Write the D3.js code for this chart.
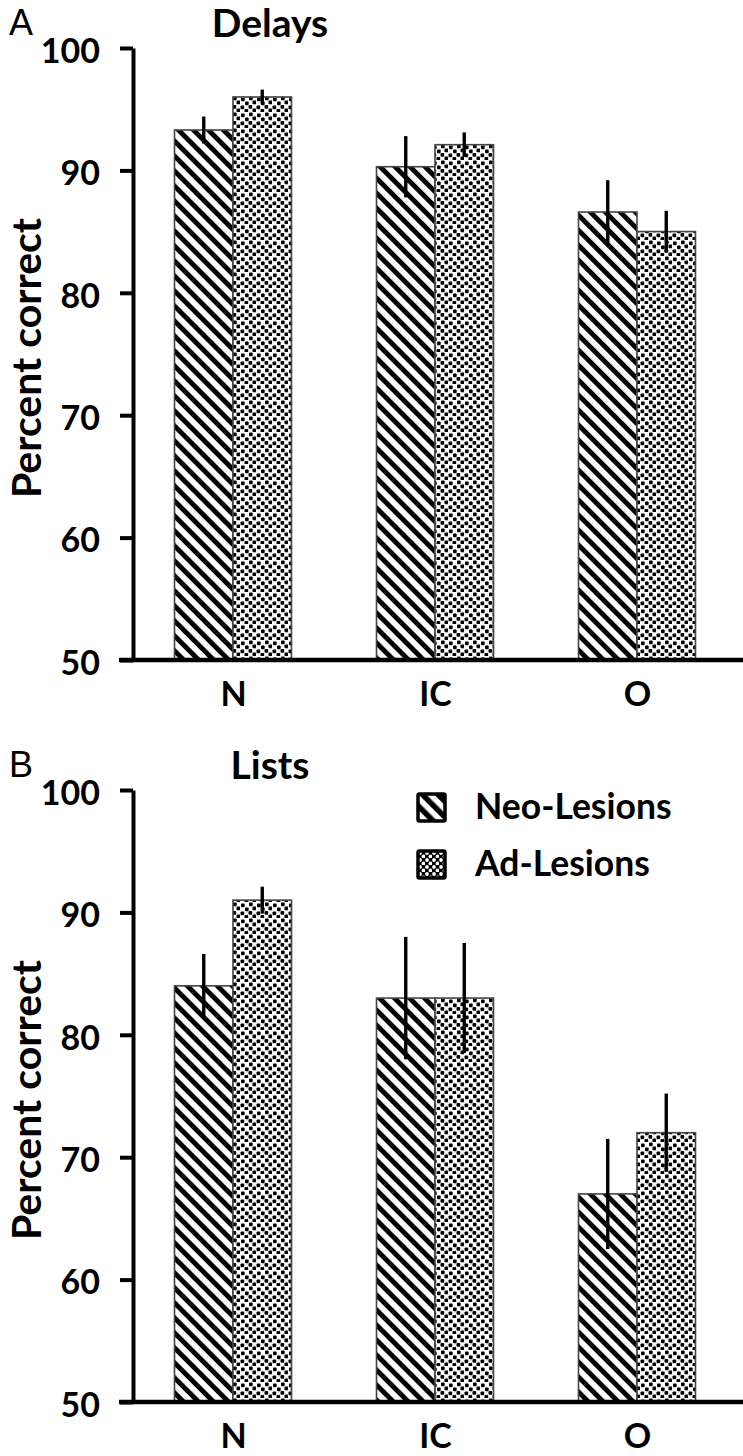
<!DOCTYPE html>
<html><head><meta charset="utf-8">
<script src="https://cdn.jsdelivr.net/npm/d3@7"></script>
<style>
html,body{margin:0;padding:0;background:#fff;}
svg{display:block;}
</style></head>
<body>
<svg id="chart" width="743" height="1456"></svg>
<script>
// ---- data ----
const categories = ["N", "IC", "O"];
const seriesNames = ["Neo-Lesions", "Ad-Lesions"];
const yTicks = [50, 60, 70, 80, 90, 100];

const delaysNeo = [93.3, 90.3, 86.6];
const delaysNeoErr = [1.1, 2.5, 2.6];
const delaysAd = [96.0, 92.1, 85.0];
const delaysAdErr = [0.6, 1.0, 1.7];

const listsNeo = [84.0, 83.0, 67.0];
const listsNeoErr = [2.6, 5.0, 4.5];
const listsAd = [91.0, 83.0, 72.0];
const listsAdErr = [1.1, 4.5, 3.2];

const svg = d3.select("#chart");
const defs = svg.append("defs");

// hatch pattern "\"
const hatch = defs.append("pattern").attr("id", "hatch").attr("patternUnits", "userSpaceOnUse")
  .attr("width", 10.6).attr("height", 10).attr("patternTransform", "rotate(-45)");
hatch.append("rect").attr("width", 10.6).attr("height", 10).attr("fill", "#fff");
hatch.append("rect").attr("x", 0).attr("width", 4.9).attr("height", 10).attr("fill", "#000");

// dot pattern (slightly irregular stipple)
const dots = defs.append("pattern").attr("id", "dots").attr("patternUnits", "userSpaceOnUse")
  .attr("width", 16).attr("height", 16);
dots.append("rect").attr("width", 16).attr("height", 16).attr("fill", "#fff");
[[1,1.5],[9,0.5],[5,5.5],[12.5,4.5],[0.5,9.5],[8.5,9],[4.5,13],[12.5,12.5]].forEach(([x,y]) => {
  dots.append("rect").attr("x", x).attr("y", y).attr("width", 3.7).attr("height", 3.7)
    .attr("rx", 0.9).attr("fill", "#000");
});

// legend patterns (coarser)
const hatchL = defs.append("pattern").attr("id", "hatchL").attr("patternUnits", "userSpaceOnUse")
  .attr("width", 11).attr("height", 10).attr("patternTransform", "rotate(-45)");
hatchL.append("rect").attr("width", 11).attr("height", 10).attr("fill", "#fff");
hatchL.append("rect").attr("width", 5.5).attr("height", 10).attr("fill", "#000");
const dotsL = defs.append("pattern").attr("id", "dotsL").attr("patternUnits", "userSpaceOnUse")
  .attr("width", 7).attr("height", 7);
dotsL.append("rect").attr("width", 7).attr("height", 7).attr("fill", "#000");
dotsL.append("circle").attr("cx", 2).attr("cy", 2).attr("r", 1.9).attr("fill", "#fff");
dotsL.append("circle").attr("cx", 5.5).attr("cy", 5.5).attr("r", 1.9).attr("fill", "#fff");

const fills = {"Neo-Lesions": "url(#hatch)", "Ad-Lesions": "url(#dots)"};
const legendFills = {"Neo-Lesions": "url(#hatchL)", "Ad-Lesions": "url(#dotsL)"};

const boldFont = "Lato, 'Open Sans', sans-serif";

function drawPanel(offsetY, letter, title, neo, neoErr, ad, adErr, showLegend) {
  const g = svg.append("g").attr("transform", `translate(0,${offsetY})`);
  const y = d3.scaleLinear().domain([50, 100]).range([660, 48]);
  const x = d3.scalePoint().domain(categories).range([132, 738]).padding(0.5);
  const xs = d3.scaleBand().domain(seriesNames).range([-58.5, 58.5]).padding(0);

  const rows = [];
  categories.forEach((c, i) => {
    rows.push({cat: c, s: "Neo-Lesions", v: neo[i], e: neoErr[i]});
    rows.push({cat: c, s: "Ad-Lesions", v: ad[i], e: adErr[i]});
  });

  // bars
  g.selectAll("rect.bar").data(rows).join("rect").attr("class", "bar")
    .attr("x", d => x(d.cat) + xs(d.s))
    .attr("y", d => y(d.v))
    .attr("width", xs.bandwidth())
    .attr("height", d => y(50) - y(d.v))
    .attr("fill", d => fills[d.s])
    .attr("stroke", "#444").attr("stroke-width", 1.6);

  // error bars
  g.selectAll("line.err").data(rows).join("line").attr("class", "err")
    .attr("x1", d => x(d.cat) + xs(d.s) + xs.bandwidth() / 2)
    .attr("x2", d => x(d.cat) + xs(d.s) + xs.bandwidth() / 2)
    .attr("y1", d => y(d.v + d.e))
    .attr("y2", d => y(d.v - d.e))
    .attr("stroke", "#000").attr("stroke-width", 3.4);

  // y axis
  const yAxis = d3.axisLeft(y).tickValues(yTicks).tickSize(13).tickSizeOuter(0).tickPadding(20);
  const ya = g.append("g").attr("transform", "translate(133,0)").call(yAxis);
  ya.select(".domain").attr("stroke", "#000").attr("stroke-width", 4);
  ya.selectAll(".tick line").attr("stroke", "#000").attr("stroke-width", 4);
  ya.selectAll(".tick text").attr("font-family", boldFont).attr("font-weight", "bold")
    .attr("font-size", 34).attr("fill", "#000").attr("dy", "0.42em");

  // x axis
  const xa = g.append("g").attr("transform", `translate(0,${y(50)})`)
    .call(d3.axisBottom(x).tickSize(0).tickPadding(22));
  xa.select(".domain").attr("d", "M119,0H743").attr("stroke", "#000").attr("stroke-width", 4.5);
  xa.selectAll(".tick text").attr("font-family", boldFont).attr("font-weight", "bold")
    .attr("font-size", 34).attr("fill", "#000");

  // y label
  g.append("text").attr("transform", `translate(41,${(y(50)+y(100))/2 + 4}) rotate(-90)`)
    .attr("text-anchor", "middle").attr("font-family", boldFont).attr("font-weight", "bold")
    .attr("font-size", 41).attr("fill", "#000").text("Percent correct");

  // panel letter
  g.append("text").attr("x", 9).attr("y", 35).attr("font-family", "'Liberation Sans', Arial, sans-serif")
    .attr("font-size", 36).attr("fill", "#000").text(letter);

  // title
  g.append("text").attr("x", 270).attr("y", 37).attr("text-anchor", "middle")
    .attr("font-family", boldFont).attr("font-weight", "bold").attr("font-size", 39)
    .attr("fill", "#000").text(title);

  if (showLegend) {
    const lg = g.selectAll("g.leg").data(seriesNames).join("g").attr("class", "leg")
      .attr("transform", (d, i) => `translate(418,${52 + i * 57})`);
    lg.append("rect").attr("width", 27).attr("height", 27).attr("fill", d => legendFills[d])
      .attr("stroke", "#000").attr("stroke-width", 3.5).attr("rx", 1.5);
    lg.append("text").attr("x", 57).attr("y", 25).attr("font-family", boldFont)
      .attr("font-weight", "bold").attr("font-size", 35.5).attr("fill", "#000").text(d => d);
  }
}

drawPanel(0, "A", "Delays", delaysNeo, delaysNeoErr, delaysAd, delaysAdErr, false);
drawPanel(742, "B", "Lists", listsNeo, listsNeoErr, listsAd, listsAdErr, true);
</script>
</body></html>
